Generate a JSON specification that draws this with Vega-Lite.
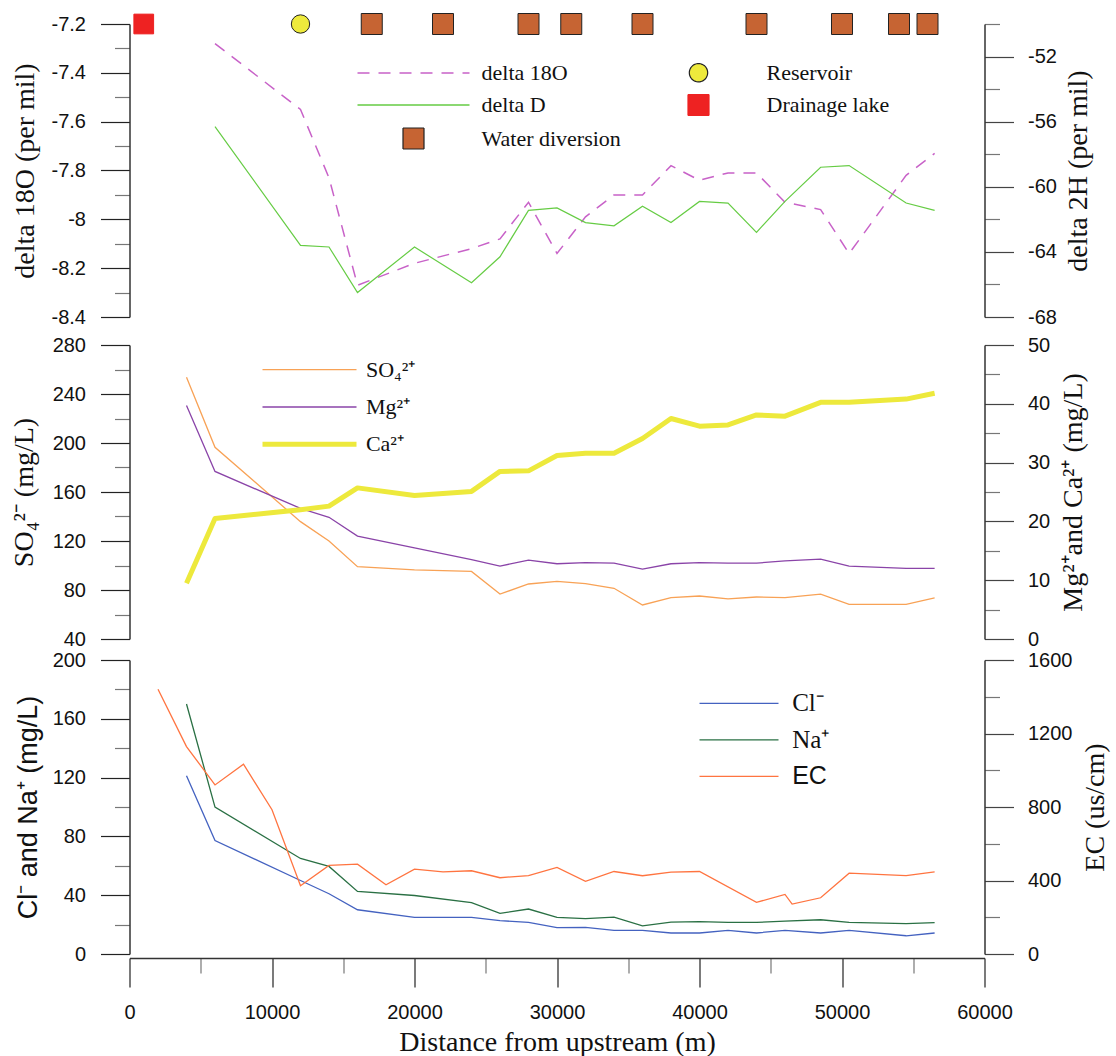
{
  "$schema": "https://vega.github.io/schema/vega-lite/v6.json",
  "background": "white",
  "padding": {"left": 9.5, "top": 11, "right": 5, "bottom": 0},
  "config": {
    "view": {"stroke": null},
    "axis": {
      "grid": false,
      "domainColor": "#333",
      "domainWidth": 1.5,
      "tickWidth": 1.2,
      "labelFont": "Liberation Sans",
      "labelFontSize": 20,
      "labelColor": "#111",
      "labelFlush": false,
      "labelOverlap": false,
      "labelBound": false,
      "titleFont": "Liberation Serif",
      "titleFontSize": 28,
      "titleFontWeight": "normal",
      "titleColor": "#111"
    }
  },
  "datasets": {
    "iso": [
      {"d": 6000, "iso": "delta 18O", "v": -7.28},
      {"d": 12000, "iso": "delta 18O", "v": -7.55},
      {"d": 14000, "iso": "delta 18O", "v": -7.83},
      {"d": 16000, "iso": "delta 18O", "v": -8.27},
      {"d": 20000, "iso": "delta 18O", "v": -8.18},
      {"d": 24000, "iso": "delta 18O", "v": -8.12},
      {"d": 26000, "iso": "delta 18O", "v": -8.08},
      {"d": 28000, "iso": "delta 18O", "v": -7.93},
      {"d": 30000, "iso": "delta 18O", "v": -8.14},
      {"d": 32000, "iso": "delta 18O", "v": -7.99},
      {"d": 34000, "iso": "delta 18O", "v": -7.9},
      {"d": 36000, "iso": "delta 18O", "v": -7.9},
      {"d": 38000, "iso": "delta 18O", "v": -7.78},
      {"d": 40000, "iso": "delta 18O", "v": -7.84},
      {"d": 42000, "iso": "delta 18O", "v": -7.81},
      {"d": 44000, "iso": "delta 18O", "v": -7.81},
      {"d": 46000, "iso": "delta 18O", "v": -7.93},
      {"d": 48500, "iso": "delta 18O", "v": -7.96},
      {"d": 50500, "iso": "delta 18O", "v": -8.14},
      {"d": 54500, "iso": "delta 18O", "v": -7.82},
      {"d": 56500, "iso": "delta 18O", "v": -7.73},
      {"d": 6000, "iso": "delta D", "v": -56.3},
      {"d": 12000, "iso": "delta D", "v": -63.6},
      {"d": 14000, "iso": "delta D", "v": -63.7},
      {"d": 16000, "iso": "delta D", "v": -66.5},
      {"d": 20000, "iso": "delta D", "v": -63.7},
      {"d": 24000, "iso": "delta D", "v": -65.9},
      {"d": 26000, "iso": "delta D", "v": -64.3},
      {"d": 28000, "iso": "delta D", "v": -61.45},
      {"d": 30000, "iso": "delta D", "v": -61.3},
      {"d": 32000, "iso": "delta D", "v": -62.2},
      {"d": 34000, "iso": "delta D", "v": -62.4},
      {"d": 36000, "iso": "delta D", "v": -61.2},
      {"d": 38000, "iso": "delta D", "v": -62.2},
      {"d": 40000, "iso": "delta D", "v": -60.9},
      {"d": 42000, "iso": "delta D", "v": -61.0},
      {"d": 44000, "iso": "delta D", "v": -62.8},
      {"d": 46000, "iso": "delta D", "v": -60.9},
      {"d": 48500, "iso": "delta D", "v": -58.8},
      {"d": 50500, "iso": "delta D", "v": -58.7},
      {"d": 54500, "iso": "delta D", "v": -61.0},
      {"d": 56500, "iso": "delta D", "v": -61.45}
    ],
    "sites": [
      {"d": 1000, "site": "Drainage lake"},
      {"d": 12000, "site": "Reservoir"},
      {"d": 17000, "site": "Water diversion"},
      {"d": 22000, "site": "Water diversion"},
      {"d": 28000, "site": "Water diversion"},
      {"d": 31000, "site": "Water diversion"},
      {"d": 36000, "site": "Water diversion"},
      {"d": 44000, "site": "Water diversion"},
      {"d": 50000, "site": "Water diversion"},
      {"d": 54000, "site": "Water diversion"},
      {"d": 56000, "site": "Water diversion"}
    ],
    "ions": [
      {"d": 4000, "ion": "SO4", "v": 253.6},
      {"d": 6000, "ion": "SO4", "v": 196.5},
      {"d": 12000, "ion": "SO4", "v": 135.8},
      {"d": 14000, "ion": "SO4", "v": 120},
      {"d": 16000, "ion": "SO4", "v": 99},
      {"d": 20000, "ion": "SO4", "v": 96.5},
      {"d": 24000, "ion": "SO4", "v": 95.2},
      {"d": 26000, "ion": "SO4", "v": 76.7},
      {"d": 28000, "ion": "SO4", "v": 84.9},
      {"d": 30000, "ion": "SO4", "v": 87.1},
      {"d": 32000, "ion": "SO4", "v": 85.2},
      {"d": 34000, "ion": "SO4", "v": 81.4},
      {"d": 36000, "ion": "SO4", "v": 67.8},
      {"d": 38000, "ion": "SO4", "v": 73.7},
      {"d": 40000, "ion": "SO4", "v": 75.1},
      {"d": 42000, "ion": "SO4", "v": 72.7},
      {"d": 44000, "ion": "SO4", "v": 74.3},
      {"d": 46000, "ion": "SO4", "v": 73.7},
      {"d": 48500, "ion": "SO4", "v": 76.7},
      {"d": 50500, "ion": "SO4", "v": 68.3},
      {"d": 54500, "ion": "SO4", "v": 68.3},
      {"d": 56500, "ion": "SO4", "v": 73.5},
      {"d": 4000, "ion": "Mg", "v": 39.7},
      {"d": 6000, "ion": "Mg", "v": 28.5},
      {"d": 12000, "ion": "Mg", "v": 22.2},
      {"d": 14000, "ion": "Mg", "v": 20.7},
      {"d": 16000, "ion": "Mg", "v": 17.5},
      {"d": 20000, "ion": "Mg", "v": 15.5},
      {"d": 24000, "ion": "Mg", "v": 13.5},
      {"d": 26000, "ion": "Mg", "v": 12.4},
      {"d": 28000, "ion": "Mg", "v": 13.4},
      {"d": 30000, "ion": "Mg", "v": 12.8},
      {"d": 32000, "ion": "Mg", "v": 13.0},
      {"d": 34000, "ion": "Mg", "v": 12.9},
      {"d": 36000, "ion": "Mg", "v": 11.9},
      {"d": 38000, "ion": "Mg", "v": 12.8},
      {"d": 40000, "ion": "Mg", "v": 13.0},
      {"d": 42000, "ion": "Mg", "v": 12.9},
      {"d": 44000, "ion": "Mg", "v": 12.9},
      {"d": 46000, "ion": "Mg", "v": 13.3},
      {"d": 48500, "ion": "Mg", "v": 13.6},
      {"d": 50500, "ion": "Mg", "v": 12.4},
      {"d": 54500, "ion": "Mg", "v": 12.0},
      {"d": 56500, "ion": "Mg", "v": 12.0},
      {"d": 4000, "ion": "Ca", "v": 9.5},
      {"d": 6000, "ion": "Ca", "v": 20.5},
      {"d": 12000, "ion": "Ca", "v": 22.0},
      {"d": 14000, "ion": "Ca", "v": 22.6},
      {"d": 16000, "ion": "Ca", "v": 25.7},
      {"d": 20000, "ion": "Ca", "v": 24.4},
      {"d": 24000, "ion": "Ca", "v": 25.1},
      {"d": 26000, "ion": "Ca", "v": 28.5},
      {"d": 28000, "ion": "Ca", "v": 28.6},
      {"d": 30000, "ion": "Ca", "v": 31.2},
      {"d": 32000, "ion": "Ca", "v": 31.6},
      {"d": 34000, "ion": "Ca", "v": 31.6},
      {"d": 36000, "ion": "Ca", "v": 34.1},
      {"d": 38000, "ion": "Ca", "v": 37.5},
      {"d": 40000, "ion": "Ca", "v": 36.2},
      {"d": 42000, "ion": "Ca", "v": 36.4},
      {"d": 44000, "ion": "Ca", "v": 38.1},
      {"d": 46000, "ion": "Ca", "v": 37.9},
      {"d": 48500, "ion": "Ca", "v": 40.25},
      {"d": 50500, "ion": "Ca", "v": 40.25},
      {"d": 54500, "ion": "Ca", "v": 40.8},
      {"d": 56500, "ion": "Ca", "v": 41.8}
    ],
    "salts": [
      {"d": 4000, "ion": "Cl", "v": 121.2},
      {"d": 6000, "ion": "Cl", "v": 77.2},
      {"d": 12000, "ion": "Cl", "v": 50},
      {"d": 14000, "ion": "Cl", "v": 41},
      {"d": 16000, "ion": "Cl", "v": 30.1},
      {"d": 20000, "ion": "Cl", "v": 24.9},
      {"d": 24000, "ion": "Cl", "v": 24.9},
      {"d": 26000, "ion": "Cl", "v": 22.7},
      {"d": 28000, "ion": "Cl", "v": 21.5},
      {"d": 30000, "ion": "Cl", "v": 18},
      {"d": 32000, "ion": "Cl", "v": 18.1},
      {"d": 34000, "ion": "Cl", "v": 16.1},
      {"d": 36000, "ion": "Cl", "v": 16.1},
      {"d": 38000, "ion": "Cl", "v": 14.3},
      {"d": 40000, "ion": "Cl", "v": 14.3},
      {"d": 42000, "ion": "Cl", "v": 16.1},
      {"d": 44000, "ion": "Cl", "v": 14.3},
      {"d": 46000, "ion": "Cl", "v": 16.1},
      {"d": 48500, "ion": "Cl", "v": 14.3},
      {"d": 50500, "ion": "Cl", "v": 16.1},
      {"d": 54500, "ion": "Cl", "v": 12.4},
      {"d": 56500, "ion": "Cl", "v": 14.3},
      {"d": 4000, "ion": "Na", "v": 170.1},
      {"d": 6000, "ion": "Na", "v": 99.9},
      {"d": 12000, "ion": "Na", "v": 65.0},
      {"d": 14000, "ion": "Na", "v": 59.6},
      {"d": 16000, "ion": "Na", "v": 42.6},
      {"d": 20000, "ion": "Na", "v": 39.8},
      {"d": 24000, "ion": "Na", "v": 34.9},
      {"d": 26000, "ion": "Na", "v": 27.6},
      {"d": 28000, "ion": "Na", "v": 30.6},
      {"d": 30000, "ion": "Na", "v": 24.9},
      {"d": 32000, "ion": "Na", "v": 24.0},
      {"d": 34000, "ion": "Na", "v": 25.1},
      {"d": 36000, "ion": "Na", "v": 19.2},
      {"d": 38000, "ion": "Na", "v": 21.7},
      {"d": 40000, "ion": "Na", "v": 22.0},
      {"d": 42000, "ion": "Na", "v": 21.5},
      {"d": 44000, "ion": "Na", "v": 21.5},
      {"d": 46000, "ion": "Na", "v": 22.4},
      {"d": 48500, "ion": "Na", "v": 23.3},
      {"d": 50500, "ion": "Na", "v": 21.5},
      {"d": 54500, "ion": "Na", "v": 20.6},
      {"d": 56500, "ion": "Na", "v": 21.3},
      {"d": 2000, "ion": "EC", "v": 1441},
      {"d": 4000, "ion": "EC", "v": 1129},
      {"d": 6000, "ion": "EC", "v": 920},
      {"d": 8000, "ion": "EC", "v": 1033},
      {"d": 10000, "ion": "EC", "v": 785},
      {"d": 12000, "ion": "EC", "v": 371},
      {"d": 14000, "ion": "EC", "v": 482},
      {"d": 16000, "ion": "EC", "v": 489},
      {"d": 18000, "ion": "EC", "v": 377},
      {"d": 20000, "ion": "EC", "v": 462},
      {"d": 22000, "ion": "EC", "v": 447},
      {"d": 24000, "ion": "EC", "v": 453},
      {"d": 26000, "ion": "EC", "v": 415},
      {"d": 28000, "ion": "EC", "v": 427},
      {"d": 30000, "ion": "EC", "v": 471},
      {"d": 32000, "ion": "EC", "v": 395},
      {"d": 34000, "ion": "EC", "v": 449},
      {"d": 36000, "ion": "EC", "v": 426},
      {"d": 38000, "ion": "EC", "v": 446},
      {"d": 40000, "ion": "EC", "v": 449},
      {"d": 44000, "ion": "EC", "v": 281},
      {"d": 46000, "ion": "EC", "v": 324},
      {"d": 46500, "ion": "EC", "v": 272},
      {"d": 48500, "ion": "EC", "v": 306},
      {"d": 50500, "ion": "EC", "v": 440},
      {"d": 54500, "ion": "EC", "v": 427},
      {"d": 56500, "ion": "EC", "v": 447}
    ]
  },
  "vconcat": [
    {
      "width": 855,
      "height": 293,
      "layer": [
        {
          "data": {"name": "iso"},
          "transform": [{"filter": "datum.iso === 'delta 18O'"}],
          "mark": {"type": "line", "strokeWidth": 1.5, "strokeDash": [12, 9]},
          "encoding": {
            "x": {"field": "d", "type": "quantitative", "scale": {"domain": [0, 60000], "nice": false}, "axis": null},
            "y": {
              "field": "v", "type": "quantitative",
              "scale": {"domain": [-8.4, -7.2], "nice": false, "zero": false},
              "axis": {
                "orient": "left",
                "title": "delta 18O (per mil)",
                "titlePadding": 12,
                "values": [-8.4, -8.3, -8.2, -8.1, -8, -7.9, -7.8, -7.7, -7.6, -7.5, -7.4, -7.3, -7.2],
                "labelExpr": "round(datum.value * 10) % 2 == 0 ? '' + datum.value : ''",
                "tickSize": {"condition": {"test": "round(datum.value * 10) % 2 != 0", "value": 15}, "value": 29},
                "tickColor": {"condition": {"test": "round(datum.value * 10) % 2 != 0", "value": "#777"}, "value": "#222"},
                "labelPadding": 15
              }
            },
            "color": {
              "field": "iso", "type": "nominal",
              "scale": {
                "domain": ["delta 18O", "delta D", "Water diversion", "Reservoir", "Drainage lake"],
                "range": ["#C862C8", "#66CC44", "#222222", "#222222", "#EE2222"]
              },
              "legend": {
                "orient": "none", "legendX": 228, "legendY": 37.5, "title": null,
                "columns": 2, "columnPadding": 21, "rowPadding": 7.5, "padding": 0,
                "symbolType": "stroke", "symbolStrokeWidth": 1.5, "symbolOffset": 45,
                "labelFont": "Liberation Serif", "labelFontSize": 22, "labelColor": "#111", "labelOffset": 57, "labelLimit": 0,
                "encode": {
                  "symbols": {
                    "update": {
                      "shape": {"signal": "indexof(['delta 18O', 'delta D'], datum.value) >= 0 ? 'stroke' : datum.value === 'Reservoir' ? 'circle' : 'square'"},
                      "size": {"signal": "indexof(['delta 18O', 'delta D'], datum.value) >= 0 ? 12544 : datum.value === 'Reservoir' ? 336 : 441"},
                      "fill": {"signal": "datum.value === 'Reservoir' ? '#EEEA3C' : datum.value === 'Drainage lake' ? '#EE2222' : datum.value === 'Water diversion' ? '#C66433' : 'transparent'"},
                      "stroke": {"signal": "datum.value === 'delta 18O' ? '#C862C8' : datum.value === 'delta D' ? '#66CC44' : datum.value === 'Drainage lake' ? '#EE2222' : '#222'"},
                      "strokeDash": {"signal": "datum.value === 'delta 18O' ? [12, 9] : [1, 0]"},
                      "strokeWidth": {"signal": "indexof(['delta 18O', 'delta D'], datum.value) >= 0 ? 1.5 : 1.2"},
                      "opacity": {"value": 1}
                    }
                  }
                }
              }
            }
          }
        },
        {
          "data": {"name": "iso"},
          "transform": [{"filter": "datum.iso === 'delta D'"}],
          "mark": {"type": "line", "strokeWidth": 1.2},
          "encoding": {
            "x": {"field": "d", "type": "quantitative", "scale": {"domain": [0, 60000], "nice": false}, "axis": null},
            "y": {
              "field": "v", "type": "quantitative",
              "scale": {"domain": [-68, -50], "nice": false, "zero": false},
              "axis": {
                "orient": "right",
                "title": "delta 2H (per mil)",
                "titleAngle": 270,
                "titleBaseline": "top",
                "titlePadding": 8,
                "values": [-68, -66, -64, -62, -60, -58, -56, -54, -52, -50],
                "labelExpr": "(datum.value + 52) % 4 == 0 ? '' + datum.value : ''",
                "tickSize": {"condition": {"test": "(datum.value + 52) % 4 != 0", "value": 15}, "value": 29},
                "tickColor": {"condition": {"test": "(datum.value + 52) % 4 != 0", "value": "#777"}, "value": "#444"},
                "labelPadding": 14
              }
            },
            "color": {"field": "iso", "type": "nominal"}
          }
        },
        {
          "data": {"name": "sites"},
          "mark": {"type": "point", "filled": true, "opacity": 1, "strokeWidth": 1},
          "encoding": {
            "x": {"field": "d", "type": "quantitative", "scale": {"domain": [0, 60000], "nice": false}, "axis": null},
            "y": {"datum": -7.2, "type": "quantitative", "scale": {"domain": [-8.4, -7.2], "nice": false, "zero": false}, "axis": null},
            "color": {"field": "site", "type": "nominal"},
            "fill": {
              "condition": [
                {"test": "datum.site === 'Reservoir'", "value": "#EEEA3C"},
                {"test": "datum.site === 'Drainage lake'", "value": "#EE2222"}
              ],
              "value": "#C66433"
            },
            "shape": {
              "field": "site", "type": "nominal",
              "scale": {"domain": ["Reservoir", "Drainage lake", "Water diversion"], "range": ["circle", "square", "square"]},
              "legend": null
            },
            "size": {
              "field": "site", "type": "nominal",
              "scale": {"domain": ["Reservoir", "Drainage lake", "Water diversion"], "range": [336, 441, 225]},
              "legend": null
            },
            "stroke": {"condition": {"test": "datum.site === 'Drainage lake'", "value": "#EE2222"}, "value": "#222"}
          }
        }
      ],
      "resolve": {"scale": {"y": "independent"}}
    },
    {
      "vconcat": [
        {
          "width": 855,
          "height": 294,
          "layer": [
            {
              "data": {"name": "ions"},
              "transform": [{"filter": "datum.ion === 'SO4'"}],
              "mark": {"type": "line", "strokeWidth": 1.3},
              "encoding": {
                "x": {"field": "d", "type": "quantitative", "scale": {"domain": [0, 60000], "nice": false}, "axis": null},
                "y": {
                  "field": "v", "type": "quantitative",
                  "scale": {"domain": [40, 280], "nice": false, "zero": false},
                  "axis": {
                    "orient": "left",
                    "title": "SO₄²⁻ (mg/L)",
                    "titlePadding": 14,
                    "values": [40, 60, 80, 100, 120, 140, 160, 180, 200, 220, 240, 260, 280],
                    "labelExpr": "datum.value % 40 == 0 ? '' + datum.value : ''",
                    "tickSize": {"condition": {"test": "datum.value % 40 != 0", "value": 15}, "value": 29},
                    "tickColor": {"condition": {"test": "datum.value % 40 != 0", "value": "#777"}, "value": "#222"},
                    "labelPadding": 15
                  }
                },
                "color": {
                  "field": "ion", "type": "nominal",
                  "scale": {"domain": ["SO4", "Mg", "Ca"], "range": ["#F8A256", "#8A44A8", "#EDE93C"]},
                  "legend": {
                    "orient": "none", "legendX": 133, "legendY": 13.7, "title": null,
                    "rowPadding": 15.3, "padding": 0,
                    "symbolType": "stroke", "symbolStrokeWidth": 1.3, "symbolOffset": 36,
                    "labelFont": "Liberation Serif", "labelFontSize": 22, "labelColor": "#111", "labelOffset": 45.4, "labelLimit": 0,
                    "labelExpr": "datum.value === 'SO4' ? 'SO₄²⁺' : datum.value === 'Mg' ? 'Mg²⁺' : 'Ca²⁺'",
                    "encode": {
                      "symbols": {
                        "update": {
                          "size": {"signal": "datum.value ? 8836 : 100"},
                          "strokeWidth": {"signal": "datum.value === 'Ca' ? 5 : 1.3"},
                          "opacity": {"value": 1}
                        }
                      }
                    }
                  }
                }
              }
            },
            {
              "data": {"name": "ions"},
              "transform": [{"filter": "datum.ion === 'Mg'"}],
              "mark": {"type": "line", "strokeWidth": 1.3},
              "encoding": {
                "x": {"field": "d", "type": "quantitative", "scale": {"domain": [0, 60000], "nice": false}, "axis": null},
                "y": {
                  "field": "v", "type": "quantitative",
                  "scale": {"domain": [0, 50], "nice": false},
                  "axis": {
                    "orient": "right",
                    "title": "Mg²⁺and Ca²⁺ (mg/L)",
                    "titleAngle": 270,
                    "titleBaseline": "top",
                    "titlePadding": 10,
                    "values": [0, 5, 10, 15, 20, 25, 30, 35, 40, 45, 50],
                    "labelExpr": "datum.value % 10 == 0 ? '' + datum.value : ''",
                    "tickSize": {"condition": {"test": "datum.value % 10 != 0", "value": 15}, "value": 29},
                    "tickColor": {"condition": {"test": "datum.value % 10 != 0", "value": "#777"}, "value": "#444"},
                    "labelPadding": 14
                  }
                },
                "color": {"field": "ion", "type": "nominal"}
              }
            },
            {
              "data": {"name": "ions"},
              "transform": [{"filter": "datum.ion === 'Ca'"}],
              "mark": {"type": "line", "strokeWidth": 5, "strokeJoin": "round"},
              "encoding": {
                "x": {"field": "d", "type": "quantitative", "scale": {"domain": [0, 60000], "nice": false}, "axis": null},
                "y": {"field": "v", "type": "quantitative", "scale": {"domain": [0, 50], "nice": false}, "axis": null},
                "color": {"field": "ion", "type": "nominal"}
              }
            }
          ],
          "resolve": {"scale": {"y": "independent"}}
        },
        {
          "width": 855,
          "height": 294,
          "layer": [
            {
              "data": {"name": "salts"},
              "transform": [{"filter": "datum.ion !== 'EC'"}],
              "mark": {"type": "line", "strokeWidth": 1.3},
              "encoding": {
                "x": {
                  "field": "d", "type": "quantitative", "scale": {"domain": [0, 60000], "nice": false},
                  "axis": {
                    "orient": "bottom",
                    "offset": 4,
                    "title": "Distance from upstream (m)",
                    "titlePadding": 6,
                    "values": [0, 5000, 10000, 15000, 20000, 25000, 30000, 35000, 40000, 45000, 50000, 55000, 60000],
                    "labelExpr": "datum.value % 10000 == 0 ? '' + datum.value : ''",
                    "tickSize": {"condition": {"test": "datum.value % 10000 != 0", "value": 15}, "value": 29},
                    "tickColor": {"condition": {"test": "datum.value % 10000 != 0", "value": "#777"}, "value": "#222"},
                    "labelPadding": 15
                  }
                },
                "y": {
                  "field": "v", "type": "quantitative",
                  "scale": {"domain": [0, 200], "nice": false},
                  "axis": {
                    "orient": "left",
                    "title": "Cl⁻ and Na⁺ (mg/L)",
                    "titleFont": "Liberation Sans",
                    "titleFontSize": 27,
                    "titlePadding": 10,
                    "values": [0, 20, 40, 60, 80, 100, 120, 140, 160, 180, 200],
                    "labelExpr": "datum.value % 40 == 0 ? '' + datum.value : ''",
                    "tickSize": {"condition": {"test": "datum.value % 40 != 0", "value": 15}, "value": 29},
                    "tickColor": {"condition": {"test": "datum.value % 40 != 0", "value": "#777"}, "value": "#222"},
                    "labelPadding": 15
                  }
                },
                "color": {
                  "field": "ion", "type": "nominal",
                  "scale": {"domain": ["Cl", "Na", "EC"], "range": ["#4462C0", "#2A7044", "#FF7440"]},
                  "legend": {
                    "orient": "none", "legendX": 570, "legendY": 30.8, "title": null,
                    "rowPadding": 10.5, "padding": 0,
                    "symbolType": "stroke", "symbolStrokeWidth": 1.3, "symbolOffset": 27,
                    "labelFont": "Liberation Serif", "labelFontSize": 25, "labelColor": "#111", "labelOffset": 40.7, "labelLimit": 0,
                    "labelExpr": "datum.value === 'Cl' ? 'Cl⁻' : datum.value === 'Na' ? 'Na⁺' : 'EC'",
                    "encode": {
                      "labels": {
                        "update": {
                          "font": {"signal": "datum.value === 'EC' ? 'Liberation Sans' : 'Liberation Serif'"}
                        }
                      },
                      "symbols": {
                        "update": {
                          "size": {"signal": "datum.value ? 6241 : 100"},
                          "opacity": {"value": 1}
                        }
                      }
                    }
                  }
                }
              }
            },
            {
              "data": {"name": "salts"},
              "transform": [{"filter": "datum.ion === 'EC'"}],
              "mark": {"type": "line", "strokeWidth": 1.3},
              "encoding": {
                "x": {"field": "d", "type": "quantitative", "scale": {"domain": [0, 60000], "nice": false}},
                "y": {
                  "field": "v", "type": "quantitative",
                  "scale": {"domain": [0, 1600], "nice": false},
                  "axis": {
                    "orient": "right",
                    "title": "EC (us/cm)",
                    "titleAngle": 270,
                    "titleBaseline": "top",
                    "titlePadding": 10,
                    "values": [0, 200, 400, 600, 800, 1000, 1200, 1400, 1600],
                    "labelExpr": "datum.value % 400 == 0 ? '' + datum.value : ''",
                    "tickSize": {"condition": {"test": "datum.value % 400 != 0", "value": 15}, "value": 29},
                    "tickColor": {"condition": {"test": "datum.value % 400 != 0", "value": "#777"}, "value": "#444"},
                    "labelPadding": 14
                  }
                },
                "color": {"field": "ion", "type": "nominal"}
              }
            }
          ],
          "resolve": {"scale": {"y": "independent"}}
        }
      ],
      "spacing": 21,
      "bounds": "flush",
      "resolve": {
        "scale": {"color": "independent", "y": "independent", "x": "shared"},
        "legend": {"color": "independent"}
      }
    }
  ],
  "spacing": 28,
  "bounds": "flush",
  "resolve": {
    "scale": {"color": "independent", "shape": "independent", "size": "independent", "y": "independent", "x": "shared"},
    "legend": {"color": "independent"}
  }
}
